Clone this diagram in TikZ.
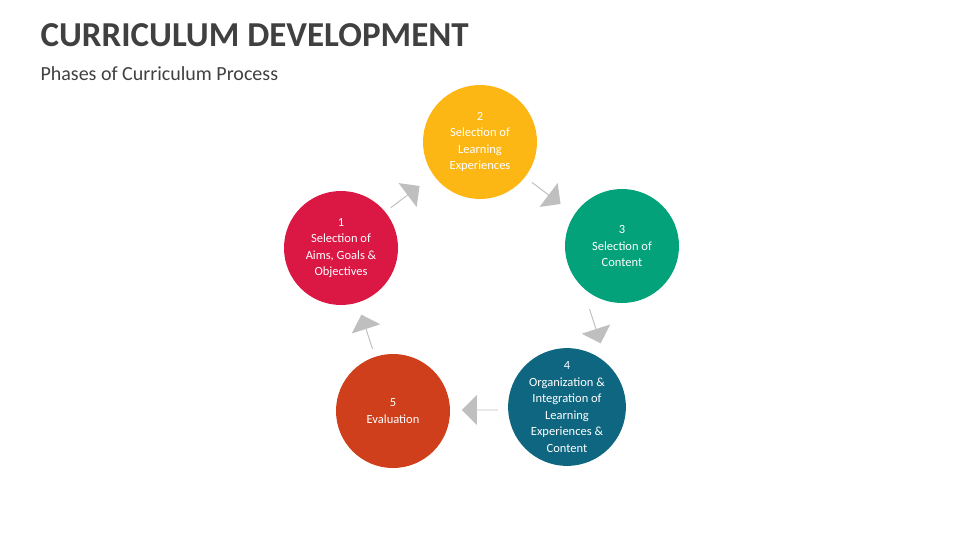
\documentclass[tikz,border=0pt]{standalone}
\usepackage{fontspec}
\setmainfont{Carlito}
\usetikzlibrary{shapes.arrows}
\definecolor{cRed}{HTML}{DB1744}
\definecolor{cYel}{HTML}{FDB714}
\definecolor{cGrn}{HTML}{03A27A}
\definecolor{cBlu}{HTML}{0F6680}
\definecolor{cOra}{HTML}{CF3F1B}
\definecolor{cGry}{HTML}{BFBFBF}
\begin{document}
\begin{tikzpicture}[x=1pt, y=-1pt, phase/.style={circle, minimum size=114pt, inner sep=0pt, text=white, align=center, font=\fontsize{12.5}{16.5}\selectfont}, flow/.style={single arrow, fill=cGry, minimum height=36pt, minimum width=30pt, single arrow head extend=6pt, inner sep=0pt}]
\useasboundingbox (0,0) rectangle (960,540);
\node[anchor=west, font=\bfseries\fontsize{35}{40}\selectfont, text=black!75] (title) at (37,35) {CURRICULUM DEVELOPMENT};
\node[anchor=west, font=\fontsize{20}{24}\selectfont, text=black!75] (sub) at (37,74) {Phases of Curriculum Process};
\node[phase, fill=cRed] (p1) at (341,248) {1\\Selection of\\Aims, Goals \&\\Objectives};
\node[phase, fill=cYel] (p2) at (480,142) {2\\Selection of\\Learning\\Experiences};
\node[phase, fill=cGrn] (p3) at (622,246) {3\\Selection of\\Content};
\node[phase, fill=cBlu] (p4) at (567,407) {4\\Organization \&\\Integration of\\Learning\\Experiences \&\\Content};
\node[phase, fill=cOra] (p5) at (393,411) {5\\Evaluation};
% connectors
\node[flow, rotate=37] (a12) at (405,197) {};
\node[flow, rotate=-37] (a23) at (546,193) {};
\node[flow, rotate=-72] (a34) at (595,326) {};
\node[flow, rotate=180] (a45) at (480,410) {};
\node[flow, rotate=108] (a51) at (367,332) {};
\end{tikzpicture}
\end{document}
